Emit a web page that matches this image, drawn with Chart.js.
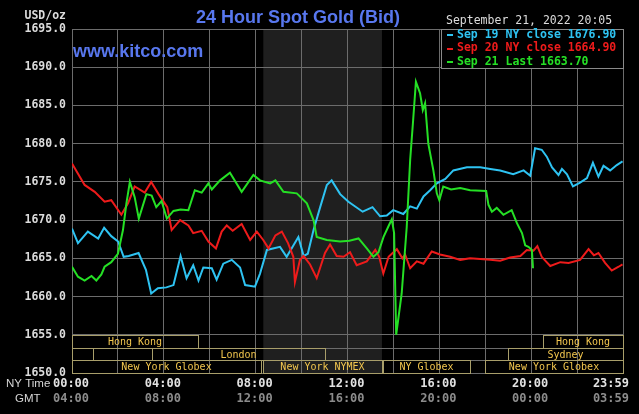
<!DOCTYPE html>
<html>
<head>
<meta charset="utf-8">
<script src="https://cdn.jsdelivr.net/npm/chart.js@4/dist/chart.umd.min.js"></script>
<style>
  html, body { margin: 0; padding: 0; background: #000; }
  canvas { display: block; }
</style>
</head>
<body>
<canvas id="gold" width="639" height="414"></canvas>
<script>
// NY time in hours
const hours19 = [0, 0.26, 0.69, 1.14, 1.40, 1.71, 2.01, 2.25, 2.47, 2.90, 3.22, 3.45, 3.74, 4.11, 4.42, 4.73, 4.99, 5.28, 5.51, 5.72, 6.09, 6.30, 6.59, 6.96, 7.32, 7.54, 7.97, 8.19, 8.49, 9.06, 9.35, 9.86, 10.09, 10.27, 10.52, 10.81, 11.10, 11.31, 11.68, 12.04, 12.66, 13.09, 13.42, 13.71, 13.99, 14.43, 14.73, 15.02, 15.31, 15.60, 15.89, 16.26, 16.61, 17.20, 17.78, 18.22, 18.65, 19.22, 19.67, 19.96, 20.17, 20.46, 20.68, 20.91, 21.19, 21.34, 21.56, 21.82, 22.13, 22.43, 22.69, 22.93, 23.15, 23.44, 23.73, 23.98];
const gold19  = [1668.9, 1667.0, 1668.5, 1667.6, 1669.0, 1667.9, 1667.2, 1665.2, 1665.3, 1665.7, 1663.5, 1660.4, 1661.1, 1661.2, 1661.5, 1665.3, 1662.4, 1664.1, 1662.1, 1663.8, 1663.7, 1662.2, 1664.3, 1664.8, 1663.8, 1661.5, 1661.3, 1663.0, 1666.1, 1666.5, 1665.2, 1667.8, 1665.3, 1665.6, 1668.7, 1671.7, 1674.6, 1675.2, 1673.4, 1672.4, 1671.1, 1671.7, 1670.5, 1670.6, 1671.3, 1670.8, 1671.8, 1671.5, 1673.1, 1673.9, 1674.8, 1675.4, 1676.5, 1676.9, 1676.9, 1676.7, 1676.5, 1676.0, 1676.5, 1675.8, 1679.4, 1679.2, 1678.3, 1676.9, 1675.9, 1676.7, 1676.0, 1674.4, 1674.9, 1675.5, 1677.5, 1675.7, 1677.1, 1676.5, 1677.2, 1677.7];

const hours20 = [0, 0.55, 0.99, 1.42, 1.71, 2.15, 2.44, 2.73, 3.17, 3.45, 3.77, 4.15, 4.34, 4.71, 5.07, 5.28, 5.65, 5.94, 6.27, 6.52, 6.74, 7.00, 7.39, 7.76, 8.05, 8.33, 8.56, 8.86, 9.14, 9.41, 9.64, 9.71, 9.93, 10.09, 10.37, 10.66, 11.02, 11.24, 11.53, 11.83, 12.11, 12.40, 12.84, 13.21, 13.38, 13.56, 13.79, 14.15, 14.39, 14.51, 14.73, 15.02, 15.31, 15.67, 16.03, 16.47, 16.91, 17.34, 17.78, 18.22, 18.65, 19.08, 19.53, 19.81, 20.10, 20.27, 20.46, 20.83, 21.27, 21.63, 22.13, 22.50, 22.73, 22.93, 23.22, 23.51, 23.81, 23.98];
const gold20  = [1677.4, 1674.6, 1673.7, 1672.4, 1672.6, 1670.7, 1672.2, 1674.4, 1673.6, 1675.0, 1673.4, 1671.7, 1668.7, 1670.0, 1669.3, 1668.3, 1668.6, 1667.2, 1666.3, 1668.5, 1669.3, 1668.6, 1669.5, 1667.4, 1668.5, 1667.4, 1666.3, 1668.0, 1668.5, 1667.0, 1665.2, 1661.9, 1664.8, 1665.3, 1664.2, 1662.4, 1665.7, 1666.8, 1665.3, 1665.2, 1665.8, 1664.1, 1664.6, 1666.1, 1665.2, 1663.0, 1665.2, 1666.2, 1665.0, 1665.5, 1663.7, 1664.6, 1664.3, 1665.9, 1665.5, 1665.2, 1664.8, 1665.0, 1664.9, 1664.8, 1664.7, 1665.1, 1665.3, 1666.1, 1666.0, 1666.6, 1665.2, 1664.0, 1664.5, 1664.4, 1664.8, 1666.2, 1665.4, 1665.7, 1664.4, 1663.4, 1663.9, 1664.2];

const hours21 = [0, 0.26, 0.55, 0.85, 1.06, 1.28, 1.42, 1.71, 2.00, 2.22, 2.37, 2.52, 2.73, 2.91, 3.24, 3.47, 3.67, 3.90, 4.13, 4.42, 4.73, 5.07, 5.35, 5.65, 5.94, 6.09, 6.45, 6.88, 7.39, 7.90, 8.19, 8.63, 8.86, 9.21, 9.79, 10.23, 10.52, 10.66, 11.10, 11.68, 12.08, 12.48, 12.84, 13.13, 13.35, 13.57, 13.80, 13.93, 14.03, 14.12, 14.36, 14.58, 14.73, 14.85, 14.98, 15.16, 15.28, 15.38, 15.52, 15.74, 15.89, 16.00, 16.17, 16.51, 16.91, 17.34, 18.04, 18.14, 18.29, 18.50, 18.79, 19.15, 19.38, 19.60, 19.74, 19.88, 20.03, 20.08];
const gold21  = [1663.9, 1662.6, 1662.1, 1662.7, 1662.1, 1662.9, 1663.9, 1664.5, 1665.6, 1668.7, 1672.2, 1675.0, 1673.0, 1670.2, 1673.4, 1673.2, 1671.7, 1672.5, 1670.2, 1671.2, 1671.4, 1671.3, 1673.9, 1673.6, 1674.8, 1674.0, 1675.2, 1676.2, 1673.7, 1675.9, 1675.2, 1674.8, 1675.2, 1673.7, 1673.5, 1672.2, 1670.0, 1667.8, 1667.4, 1667.2, 1667.3, 1667.6, 1666.3, 1665.2, 1665.8, 1667.8, 1669.3, 1670.1, 1668.3, 1655.0, 1660.4, 1669.1, 1677.9, 1682.7, 1688.1, 1686.6, 1684.4, 1685.3, 1680.0, 1676.5, 1673.5, 1672.6, 1674.4, 1674.0, 1674.2, 1673.9, 1673.8, 1672.0, 1671.1, 1671.6, 1670.7, 1671.3, 1669.6, 1668.3, 1666.7, 1666.5, 1666.1, 1663.7];

const legendLabels = ['Sep 19 NY close 1676.90', 'Sep 20 NY close 1664.90', 'Sep 21 Last 1663.70'];
const seriesColors = ['#2ec3f2', '#ee1b1b', '#25e025'];

const labelHours   = [0, 4, 8, 12, 16, 20, 24];
const nyTimeLabels = ['00:00', '04:00', '08:00', '12:00', '16:00', '20:00', '23:59'];
const gmtLabels    = ['04:00', '08:00', '12:00', '16:00', '20:00', '00:00', '03:59'];

// market sessions (NY hours), row 0 = top band
const sessionNames = ['Hong Kong', 'Hong Kong', '', '', 'London', 'Sydney', 'New York Globex', 'New York NYMEX', 'NY Globex', 'New York Globex'];
const sessionStart = [0, 20.5, 0, 0.93, 3.5, 19.0, 0, 8.333, 13.55, 18.0];
const sessionEnd   = [5.5, 24, 0.93, 3.5, 11.0, 24, 8.25, 13.5, 17.33, 24];
const sessionRow   = [0, 0, 1, 1, 1, 1, 2, 2, 2, 2];
const nyOpen = 8.333, nyClose = 13.5;

const GRID = '#6c6c6c';
const MONO = '"DejaVu Sans Mono", monospace';

const pts = (hs, vs) => hs.map((h, i) => ({ x: h, y: vs[i] }));

const backdrop = {
  id: 'backdrop',
  beforeDraw(chart) {
    const { ctx, chartArea: a, scales: { x } } = chart;
    ctx.save();
    ctx.fillStyle = '#000';
    ctx.fillRect(0, 0, chart.width, chart.height);
    ctx.fillStyle = '#1f1f1f';
    const x0 = x.getPixelForValue(nyOpen), x1 = x.getPixelForValue(nyClose);
    ctx.fillRect(x0, a.top, x1 - x0, a.bottom - a.top);
    ctx.restore();
  },
  beforeDatasetsDraw(chart) {
    const { ctx, chartArea: a, scales: { x, y } } = chart;
    ctx.save();
    ctx.lineWidth = 1;
    // band row separators
    ctx.strokeStyle = GRID;
    [1655 - 5 / 3, 1655 - 10 / 3].forEach(v => {
      const py = Math.round(y.getPixelForValue(v)) + 0.5;
      ctx.beginPath(); ctx.moveTo(a.left, py); ctx.lineTo(a.right, py); ctx.stroke();
    });
    // session boxes
    ctx.font = '10px ' + MONO;
    ctx.textAlign = 'center';
    ctx.textBaseline = 'middle';
    sessionNames.forEach((name, i) => {
      const top = Math.round(y.getPixelForValue(1655 - sessionRow[i] * 5 / 3));
      const bot = Math.round(y.getPixelForValue(1655 - (sessionRow[i] + 1) * 5 / 3));
      const l = Math.round(x.getPixelForValue(sessionStart[i]));
      const r = Math.round(x.getPixelForValue(sessionEnd[i]));
      ctx.strokeStyle = '#a89e6a';
      ctx.strokeRect(l + 0.5, top + 0.5, r - l, bot - top);
      if (name) {
        ctx.fillStyle = '#f2c64e';
        ctx.fillText(name, (l + r) / 2, (top + bot) / 2 + 1);
      }
    });
    ctx.restore();
  },
  afterDraw(chart) {
    const { ctx, chartArea: a, scales: { x } } = chart;
    ctx.save();

    ctx.fillStyle = '#5877ee';
    ctx.font = 'bold 18px "Liberation Sans", Arial, sans-serif';
    ctx.textAlign = 'center';
    ctx.textBaseline = 'alphabetic';
    ctx.fillText('24 Hour Spot Gold (Bid)', 298, 23);
    ctx.textAlign = 'left';
    ctx.fillText('www.kitco.com', 73, 57);

    ctx.textBaseline = 'middle';
    ctx.fillStyle = '#dcdcdc';
    ctx.font = 'bold 11.5px ' + MONO;
    ctx.textAlign = 'right';
    ctx.fillText('USD/oz', 66, 16);

    ctx.textAlign = 'left';
    ctx.font = '11.5px ' + MONO;
    ctx.fillText('September 21, 2022 20:05', 446, 21);

    // legend box
    ctx.fillStyle = '#000';
    ctx.fillRect(441, 29, a.right - 441, 40);
    ctx.strokeStyle = '#8a8a8a';
    ctx.lineWidth = 1;
    ctx.strokeRect(441.5, 29.5, a.right - 441, 39);
    ctx.font = 'bold 11.5px ' + MONO;
    legendLabels.forEach((t, i) => {
      const ly = 35 + i * 13.5;
      ctx.fillStyle = seriesColors[i];
      ctx.fillRect(447, Math.round(ly) - 1, 6, 2);
      ctx.fillText(t, 457, ly);
    });

    // time axis labels
    ctx.font = 'bold 12px ' + MONO;
    labelHours.forEach((h, i) => {
      const px = x.getPixelForValue(h);
      const last = i === labelHours.length - 1;
      ctx.textAlign = last ? 'right' : 'center';
      const tx = last ? px + 6 : px - 1;
      ctx.fillStyle = '#e2e2e2';
      ctx.fillText(nyTimeLabels[i], tx, a.bottom + 11);
      ctx.fillStyle = '#8c8c8c';
      ctx.fillText(gmtLabels[i], tx, a.bottom + 26);
    });
    ctx.textAlign = 'left';
    ctx.fillStyle = '#d6d6d6';
    ctx.font = '11.5px "Liberation Sans", Arial, sans-serif';
    ctx.fillText('NY Time', 6, a.bottom + 11);
    ctx.fillText('GMT', 15, a.bottom + 26);
    ctx.restore();
  }
};

new Chart(document.getElementById('gold'), {
  type: 'line',
  data: {
    datasets: [
      { label: 'Sep 19', data: pts(hours19, gold19), borderColor: seriesColors[0], order: 3 },
      { label: 'Sep 20', data: pts(hours20, gold20), borderColor: seriesColors[1], order: 2 },
      { label: 'Sep 21', data: pts(hours21, gold21), borderColor: seriesColors[2], order: 1 },
    ],
  },
  options: {
    responsive: false,
    animation: false,
    devicePixelRatio: 1,
    layout: { padding: { top: 29, right: 16, bottom: 41, left: 0 } },
    elements: {
      line: { borderWidth: 2, tension: 0 },
      point: { radius: 0 },
    },
    plugins: {
      legend: { display: false },
      tooltip: { enabled: false },
    },
    scales: {
      x: {
        type: 'linear', min: 0, max: 24,
        ticks: { stepSize: 2, display: false },
        grid: { color: GRID, drawTicks: false },
        border: { color: GRID },
        afterFit: s => { s.height = 0; },
      },
      y: {
        min: 1650, max: 1695,
        ticks: {
          stepSize: 5, padding: 6, color: '#dcdcdc',
          font: { family: 'DejaVu Sans Mono', size: 11.5, weight: 'bold' },
          callback: v => v.toFixed(1),
        },
        grid: { color: GRID, drawTicks: false },
        border: { color: GRID },
        afterFit: s => { s.width = 72; },
      },
    },
  },
  plugins: [backdrop],
});
</script>
</body>
</html>
